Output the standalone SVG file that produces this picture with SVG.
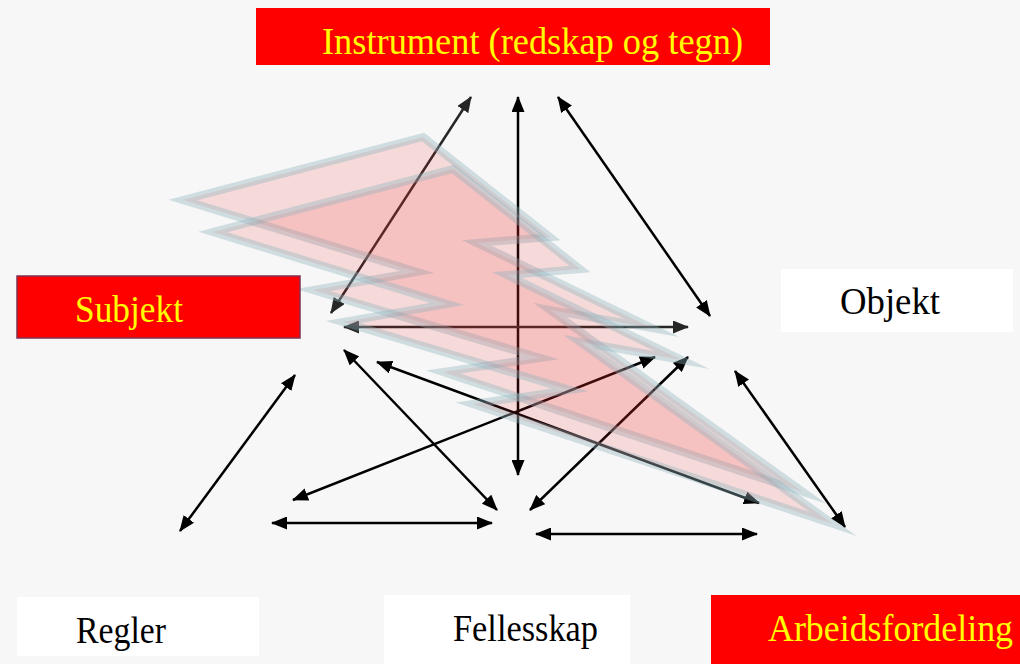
<svg xmlns="http://www.w3.org/2000/svg" width="1020" height="664" viewBox="0 0 1020 664">
<style>
.lbl{font-family:"Liberation Serif","Times New Roman",serif;font-size:37px}
.yel{fill:#ffff00}
.blk{fill:#000}
.red{fill:#ff0000}
.wht{fill:#ffffff}
.c{fill:none;stroke-width:2.5}
.k{stroke:#000;marker-start:url(#hk);marker-end:url(#hk)}
.g{stroke:#262626;marker-start:url(#hg);marker-end:url(#hg)}
.bolt{fill:#f02828;fill-opacity:0.14;stroke:#8fb2be;stroke-opacity:0.38;stroke-width:8;stroke-linejoin:miter;stroke-miterlimit:20}
</style>
<defs>
<marker id="hk" viewBox="0 0 16 13" refX="15" refY="6.5" markerWidth="16" markerHeight="13" markerUnits="userSpaceOnUse" orient="auto-start-reverse"><path d="M0,0 L16,6.5 L0,13 z" fill="#000"/></marker>
<marker id="hg" viewBox="0 0 16 13" refX="15" refY="6.5" markerWidth="16" markerHeight="13" markerUnits="userSpaceOnUse" orient="auto-start-reverse"><path d="M0,0 L16,6.5 L0,13 z" fill="#262626"/></marker>
<polygon id="boltShape" points="423,137 550,237 477,243 652,328 550,310 803,492 443,372 540,358 313,290 417,272 183,200"/>
</defs>
<rect x="0" y="0" width="1020" height="664" fill="#f7f7f7"/>

<g id="connectors">
<line class="c g" x1="331" y1="313" x2="471" y2="97"/>
<line class="c k" x1="518" y1="97" x2="518" y2="475"/>
<line class="c k" x1="558" y1="97" x2="710" y2="316"/>
<line class="c g" x1="344" y1="327" x2="688" y2="327"/>
<line class="c k" x1="295" y1="375" x2="180" y2="531"/>
<line class="c k" x1="344" y1="350" x2="497" y2="510"/>
<line class="c k" x1="377" y1="362" x2="759" y2="503"/>
<line class="c k" x1="655" y1="357" x2="293" y2="500"/>
<line class="c k" x1="688" y1="357" x2="530" y2="510"/>
<line class="c k" x1="735" y1="371" x2="845" y2="527"/>
<line class="c k" x1="272" y1="523" x2="492" y2="523"/>
<line class="c k" x1="536" y1="534" x2="757" y2="534"/>
</g>

<g id="lightning">
<use href="#boltShape" class="bolt"/>
<use href="#boltShape" class="bolt" transform="translate(30,32)"/>
</g>

<g id="instrument">
<rect class="red" x="256" y="8" width="514" height="57"/>
<text class="lbl yel" x="322" y="54" textLength="421" lengthAdjust="spacingAndGlyphs">Instrument (redskap og tegn)</text>
</g>
<g id="subjekt">
<rect class="red" x="17" y="276" width="283" height="62" stroke="#803050" stroke-width="1.5"/>
<text class="lbl yel" x="75" y="322" textLength="108" lengthAdjust="spacingAndGlyphs">Subjekt</text>
</g>
<g id="objekt">
<rect class="wht" x="781" y="269" width="232" height="63"/>
<text class="lbl blk" x="840" y="314" textLength="100" lengthAdjust="spacingAndGlyphs">Objekt</text>
</g>
<g id="regler">
<rect class="wht" x="17" y="597" width="242" height="59"/>
<text class="lbl blk" x="76" y="643" textLength="90" lengthAdjust="spacingAndGlyphs">Regler</text>
</g>
<g id="fellesskap">
<rect class="wht" x="384" y="595" width="246" height="69"/>
<text class="lbl blk" x="453" y="641" textLength="145" lengthAdjust="spacingAndGlyphs">Fellesskap</text>
</g>
<g id="arbeidsfordeling">
<rect class="red" x="711" y="595" width="309" height="69"/>
<text class="lbl yel" x="768" y="641" textLength="245" lengthAdjust="spacingAndGlyphs">Arbeidsfordeling</text>
</g>
</svg>
